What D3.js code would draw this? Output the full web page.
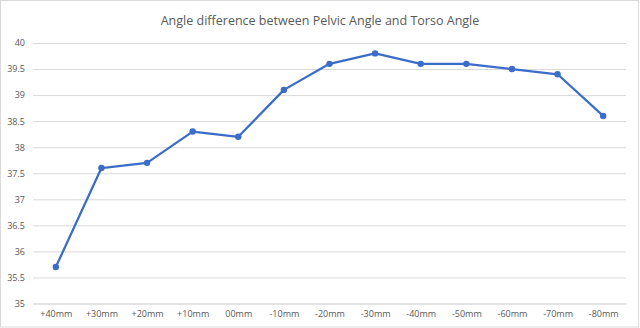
<!DOCTYPE html>
<html><head><meta charset="utf-8">
<script src="https://cdn.jsdelivr.net/npm/d3@7"></script>
<style>body{margin:0;background:#fff}svg{display:block}</style>
</head><body>
<svg id="c" width="640" height="328"></svg>
<script>
const categories = ["+40mm","+30mm","+20mm","+10mm","00mm","-10mm","-20mm","-30mm","-40mm","-50mm","-60mm","-70mm","-80mm"];
const values = [35.7,37.6,37.7,38.3,38.2,39.1,39.6,39.8,39.6,39.6,39.5,39.4,38.6];
const yTicks = [35,35.5,36,36.5,37,37.5,38,38.5,39,39.5,40];
const title = "Angle difference between Pelvic Angle and Torso Angle";

const W = 640, H = 328;
const m = {left:33, right:14, top:43, bottom:24.5};
const svg = d3.select("#c");
const font = "Open Sans, Noto Sans, sans-serif";

svg.append("rect").attr("x",0.5).attr("y",0.5).attr("width",W-2).attr("height",H-1.5)
  .attr("fill","#fff").attr("stroke","#d9d9d9").attr("stroke-width",1);

const x = d3.scalePoint().domain(categories).range([m.left, W-m.right]).padding(0.5);
const y = d3.scaleLinear().domain([35,40]).range([H-m.bottom, m.top]);

// gridlines
const yAxis = d3.axisLeft(y).tickValues(yTicks).tickSize(-(W-m.right-m.left)).tickPadding(8)
  .tickFormat(d3.format("~g"));
const gy = svg.append("g").attr("transform",`translate(${m.left},0)`).call(yAxis);
gy.select(".domain").remove();
gy.selectAll(".tick line").attr("stroke","#d9d9d9").attr("stroke-width",1);
gy.selectAll(".tick text").attr("fill","#595959").attr("font-size",9).attr("font-family",font);

const xAxis = d3.axisBottom(x).tickSize(0).tickPadding(7);
const gx = svg.append("g").attr("transform",`translate(0,${H-m.bottom})`).call(xAxis);
gx.select(".domain").attr("stroke","#d9d9d9");
gx.selectAll(".tick text").attr("fill","#595959").attr("font-size",9).attr("font-family",font);

const line = d3.line().x((d,i)=>x(categories[i])).y(d=>y(d));
svg.append("path").datum(values).attr("d",line).attr("fill","none")
  .attr("stroke","#3a6cc8").attr("stroke-width",2.25).attr("stroke-linejoin","round");
svg.selectAll("circle.pt").data(values).join("circle").attr("class","pt")
  .attr("cx",(d,i)=>x(categories[i])).attr("cy",d=>y(d)).attr("r",3.2)
  .attr("fill","#3a6cc8");

const t = svg.append("text").attr("x",320).attr("y",25).attr("text-anchor","middle")
  .attr("fill","#595959").attr("font-family",font).attr("font-size",14).text(title);
const len = t.node().getComputedTextLength();
t.attr("font-size", 14*319/len);
</script>
</body></html>
